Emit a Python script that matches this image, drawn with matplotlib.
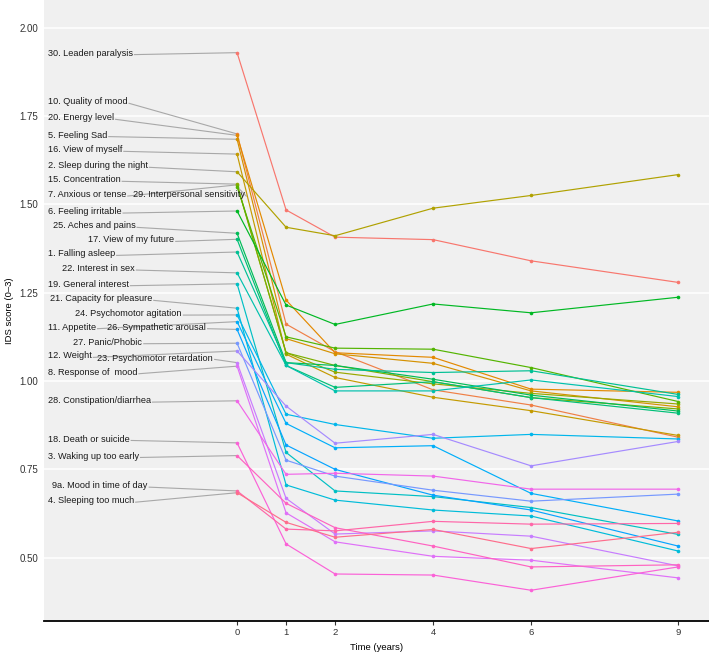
import numpy as np
import matplotlib
matplotlib.use("Agg")
import matplotlib.pyplot as plt

# ---------------- data ----------------
times = [0, 1, 2, 4, 6, 9]
x_ticks = [0, 1, 2, 4, 6, 9]
y_ticks = [0.50, 0.75, 1.00, 1.25, 1.50, 1.75, 2.00]

items = ["30. Leaden paralysis", "10. Quality of mood", "20. Energy level", "5. Feeling Sad",
         "16. View of myself", "2. Sleep during the night", "15. Concentration",
         "7. Anxious or tense", "29. Interpersonal sensitivity", "6. Feeling irritable",
         "25. Aches and pains", "17. View of my future", "1. Falling asleep",
         "22. Interest in sex", "19. General interest", "21. Capacity for pleasure",
         "24. Psychomotor agitation", "11. Appetite", "26. Sympathetic arousal",
         "27. Panic/Phobic", "12. Weight", "23. Psychomotor retardation",
         "8. Response of  mood", "28. Constipation/diarrhea", "18. Death or suicide",
         "3. Waking up too early", "9a. Mood in time of day", "4. Sleeping too much"]

leaden = [1.929, 1.484, 1.407, 1.400, 1.340, 1.279]
quality = [1.699, 1.161, 1.083, 0.975, 0.932, 0.841]
energy = [1.695, 1.229, 1.080, 1.067, 0.977, 0.968]
sad = [1.684, 1.120, 1.077, 1.050, 0.972, 0.927]
view_myself = [1.642, 1.076, 1.010, 0.954, 0.916, 0.846]
sleep_night = [1.592, 1.435, 1.411, 1.489, 1.525, 1.584]
concentration = [1.557, 1.080, 1.025, 0.992, 0.965, 0.935]
anxious = [1.555, 1.080, 1.044, 0.998, 0.953, 0.921]
interpersonal = [1.550, 1.125, 1.093, 1.090, 1.038, 0.942]
irritable = [1.481, 1.215, 1.160, 1.218, 1.193, 1.237]
aches = [1.418, 1.052, 1.044, 1.005, 0.960, 0.915]
future = [1.401, 1.044, 0.982, 0.998, 0.953, 0.909]
falling_asleep = [1.365, 1.052, 1.033, 1.024, 1.029, 0.962]
interest_sex = [1.306, 1.044, 0.972, 0.972, 1.003, 0.956]
general_interest = [1.275, 0.798, 0.689, 0.673, 0.642, 0.566]
capacity = [1.206, 0.706, 0.663, 0.635, 0.618, 0.519]
agitation = [1.187, 0.906, 0.877, 0.838, 0.849, 0.836]
appetite = [1.168, 0.880, 0.811, 0.817, 0.682, 0.604]
sympathetic = [1.146, 0.819, 0.750, 0.677, 0.635, 0.533]
panic = [1.107, 0.776, 0.731, 0.691, 0.660, 0.680]
weight = [1.085, 0.929, 0.824, 0.849, 0.760, 0.829]
retardation = [1.052, 0.668, 0.567, 0.576, 0.561, 0.477]
response = [1.042, 0.627, 0.545, 0.504, 0.493, 0.443]
constipation = [0.944, 0.736, 0.739, 0.731, 0.694, 0.694]
death = [0.825, 0.539, 0.454, 0.451, 0.408, 0.474]
waking = [0.789, 0.654, 0.585, 0.533, 0.474, 0.480]
mood_time = [0.689, 0.581, 0.576, 0.603, 0.595, 0.597]
sleep_much = [0.684, 0.600, 0.558, 0.580, 0.526, 0.572]

series = [leaden, quality, energy, sad, view_myself, sleep_night, concentration,
          anxious, interpersonal, irritable, aches, future, falling_asleep,
          interest_sex, general_interest, capacity, agitation, appetite, sympathetic,
          panic, weight, retardation, response, constipation, death, waking,
          mood_time, sleep_much]

# label placement (layout, data coords: left x, centre y)
label_x = [-3.86, -3.86, -3.86, -3.86, -3.86, -3.86, -3.86, -3.86, -2.13, -3.86,
           -3.76, -3.04, -3.86, -3.57, -3.86, -3.82, -3.30, -3.86, -2.65,
           -3.34, -3.86, -2.85, -3.86, -3.86, -3.86, -3.86, -3.77, -3.86]
label_y = [1.9275, 1.7897, 1.7444, 1.6955, 1.6538, 1.6086, 1.5690, 1.5273, 1.5273, 1.4792,
           1.4387, 1.3990, 1.3594, 1.3179, 1.2737, 1.2321, 1.1905, 1.1520, 1.1520,
           1.1095, 1.0708, 1.0651, 1.0246, 0.9443, 0.8358, 0.7877, 0.7037, 0.6612]


# ggplot2-like hue palette (hcl, c=100, l=65)
def hcl_to_rgb(h, c=100.0, l=65.0):
    hr = np.deg2rad(h)
    u = c * np.cos(hr)
    v = c * np.sin(hr)
    Xn, Yn, Zn = 95.047, 100.0, 108.883
    Y = Yn * ((l + 16) / 116) ** 3 if l > 8 else Yn * l / 903.3
    d = Xn + 15 * Yn + 3 * Zn
    un, vn = 4 * Xn / d, 9 * Yn / d
    up = u / (13 * l) + un
    vp = v / (13 * l) + vn
    X = Y * 9 * up / (4 * vp)
    Z = Y * (12 - 3 * up - 20 * vp) / (4 * vp)
    X, Y, Z = X / 100, Y / 100, Z / 100
    r = 3.2404542 * X - 1.5371385 * Y - 0.4985314 * Z
    g = -0.9692660 * X + 1.8760108 * Y + 0.0415560 * Z
    b = 0.0556434 * X - 0.2040259 * Y + 1.0572252 * Z
    out = []
    for ch in (r, g, b):
        ch = 12.92 * ch if ch <= 0.0031308 else 1.055 * ch ** (1 / 2.4) - 0.055
        out.append(min(max(ch, 0), 1))
    return tuple(out)


n = len(items)
colors = [hcl_to_rgb(15 + 360 * i / n) for i in range(n)]

plt.rcParams['font.family'] = ['Liberation Sans', 'DejaVu Sans']

fig = plt.figure(figsize=(7.09, 6.56), dpi=100)
ax = fig.add_axes([44 / 709, 35 / 656, 1 - 44 / 709, 1 - 35 / 656])
ax.set_facecolor('#F0F0F0')
ax.set_xlim(-3.94, 9.63)
ax.set_ylim(0.321, 2.078)

for yv in y_ticks:
    ax.axhline(yv, color='white', lw=1.1, zorder=0)

for s, c in zip(series, colors):
    ax.plot(times, s, color=c, lw=0.85, zorder=3)
    ax.plot(times, s, 'o', color=c, ms=2.6, mew=0, zorder=4)

texts = []
for lab, lx, ly in zip(items, label_x, label_y):
    t = ax.text(lx, ly, lab, ha='left', va='center', fontsize=6.6, color='#1a1a1a', zorder=5)
    texts.append(t)

fig.canvas.draw()
renderer = fig.canvas.get_renderer()
inv = ax.transData.inverted()
for t, s, ly in zip(texts, series, label_y):
    bb = t.get_window_extent(renderer)
    xr, _ = inv.transform((bb.x1 + 1.5, bb.y0))
    ax.plot([xr, times[0]], [ly - 0.004, s[0]], color='#A8A8A8', lw=0.8, zorder=2)

ax.set_xticks(x_ticks)
ax.set_xticklabels([str(v) for v in x_ticks], fontsize=6.8, color='#333333')
ax.set_yticks(y_ticks)
ax.set_yticklabels([f"{v:.2f}" for v in y_ticks], fontsize=7.0, color='#333333')
ax.tick_params(axis='x', length=3, width=0.8, color='#333333', pad=2)
ax.tick_params(axis='y', length=0, pad=4)
for sp in ['top', 'right', 'left']:
    ax.spines[sp].set_visible(False)
ax.spines['bottom'].set_color('black')
ax.spines['bottom'].set_linewidth(1.3)

ax.set_xlabel('Time (years)', fontsize=6.8, labelpad=4)
ax.set_ylabel('IDS score (0\u20133)', fontsize=6.8, labelpad=4)

fig.savefig('out.png', dpi=100)
